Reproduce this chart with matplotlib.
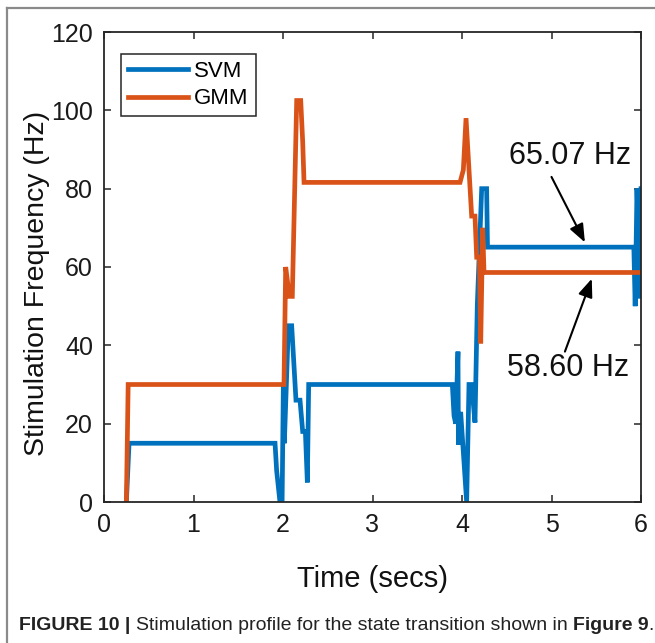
import matplotlib
matplotlib.use("Agg")
import matplotlib.pyplot as plt
from matplotlib import font_manager
from matplotlib.lines import Line2D

# ---------------- data ----------------
svm_t = [0.25, 0.28, 1.911, 1.929, 1.966, 1.99, 2.004, 2.015, 2.06, 2.097, 2.145, 2.19,
         2.22, 2.25, 2.272, 2.287, 3.892, 3.911, 3.93, 3.955, 3.96, 3.985, 4.052, 4.078,
         4.108, 4.145, 4.171, 4.22, 4.275, 4.285, 5.92, 5.935, 5.955, 5.975, 5.99, 6.0]
svm_f = [0, 15, 15, 8, 0, 0, 30, 15, 45, 45, 26, 26,
         18, 18, 5, 30, 30, 22, 20, 38.4, 14.6, 23, 0, 30,
         30, 20.3, 50.3, 80, 80, 65.07, 65.07, 50, 80, 65, 52, 80]

gmm_t = [0.25, 0.27, 2.011, 2.03, 2.071, 2.104, 2.153, 2.198, 2.22, 2.235, 3.978, 4.015,
         4.045, 4.108, 4.145, 4.164, 4.194, 4.209, 4.231, 4.246, 6.0]
gmm_f = [0, 30, 30, 60, 52.5, 52.5, 102.5, 102.5, 92, 81.6, 81.6, 84.8,
         98, 73, 73, 62.5, 62.5, 40.5, 70, 58.6, 58.6]

series_names = ["SVM", "GMM"]
x_ticks = [0, 1, 2, 3, 4, 5, 6]
y_ticks = [0, 20, 40, 60, 80, 100, 120]
annot_svm = "65.07 Hz"
annot_gmm = "58.60 Hz"
xlabel = "Time (secs)"
ylabel = "Stimulation Frequency (Hz)"
caption_parts = [("FIGURE 10 | ", "bold"),
                 ("Stimulation profile for the state transition shown in ", "normal"),
                 ("Figure 9", "bold"),
                 (".", "normal")]

# ---------------- style ----------------
names = {f.name for f in font_manager.fontManager.ttflist}
main_font = "Liberation Sans" if "Liberation Sans" in names else "DejaVu Sans"
cap_font = "Liberation Sans Narrow" if "Liberation Sans Narrow" in names else main_font
plt.rcParams["font.family"] = [main_font, "DejaVu Sans"]

W, H = 655, 643
fig = plt.figure(figsize=(W / 100, H / 100), dpi=100)
fig.patch.set_facecolor("white")

ax_l, ax_r, ax_t, ax_b = 104, 641, 32, 502
ax = fig.add_axes([ax_l / W, 1 - ax_b / H, (ax_r - ax_l) / W, (ax_b - ax_t) / H])

blue = "#0072BD"
orange = "#D95319"
ax.plot(svm_t, svm_f, color=blue, lw=3.4, label=series_names[0], solid_joinstyle="miter")
ax.plot(gmm_t, gmm_f, color=orange, lw=3.4, label=series_names[1], solid_joinstyle="miter")

ax.set_xlim(0, 6)
ax.set_ylim(0, 120)
ax.set_xticks(x_ticks)
ax.set_yticks(y_ticks)
ax.tick_params(direction="in", length=5, width=1.1, top=True, right=True,
               labelsize=18, pad=8, colors="#262626")
for lab in ax.get_xticklabels() + ax.get_yticklabels():
    lab.set_color("#1a1a1a")
for s in ax.spines.values():
    s.set_linewidth(1.3)
    s.set_color("#262626")

leg = ax.legend(loc="upper left", bbox_to_anchor=((121 - ax_l) / (ax_r - ax_l), (ax_b - 54) / (ax_b - ax_t)),
                borderaxespad=0, fancybox=False, framealpha=1, edgecolor="#262626",
                fontsize=16, handlelength=2.7, handletextpad=0.3, labelspacing=0.3,
                borderpad=0.3)
leg.get_frame().set_linewidth(1.1)

# annotations
arrow_style = dict(arrowstyle="-|>,head_length=0.55,head_width=0.22", lw=1.5, color="black",
                   mutation_scale=20, shrinkA=0, shrinkB=0)
ax.text(5.21, 88.3, annot_svm, fontsize=22, ha="center", va="center", color="#111111")
ax.annotate("", xy=(5.373, 66.3), xytext=(5.00, 83.0), arrowprops=arrow_style)
ax.text(5.18, 34.2, annot_gmm, fontsize=22, ha="center", va="center", color="#111111")
ax.annotate("", xy=(5.45, 57.0), xytext=(5.15, 38.4), arrowprops=arrow_style)

# axis labels
fig.text(372.5 / W, 1 - 579 / H, xlabel, fontsize=21, ha="center", va="center", color="#111111")
fig.text(37 / W, 1 - 283 / H, ylabel, fontsize=20.5, ha="center", va="center",
         rotation=90, color="#111111")

# frame lines (top and left)
fig.add_artist(Line2D([7 / W, 7 / W], [0, 1 - 8 / H], transform=fig.transFigure,
                      color="#8a8a8a", lw=1.6))
fig.add_artist(Line2D([7 / W, 1], [1 - 8 / H, 1 - 8 / H], transform=fig.transFigure,
                      color="#8a8a8a", lw=1.6))

# caption, drawn piecewise
fig.canvas.draw()
renderer = fig.canvas.get_renderer()
x = 19
cy = 1 - 626 / H
for txt, wt in caption_parts:
    t = fig.text(x / W, cy, txt, fontsize=14, fontweight=wt, ha="left", va="center",
                 family=[cap_font, "DejaVu Sans"], color="#222222")
    bb = t.get_window_extent(renderer=renderer)
    x = bb.x1

fig.savefig("out.png", dpi=100, facecolor="white")
